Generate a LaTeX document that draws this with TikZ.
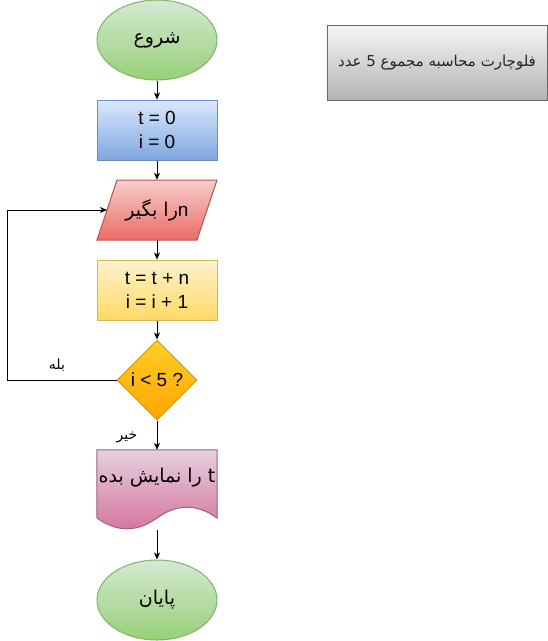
\documentclass[tikz,border=0pt]{standalone}
\usepackage{fontspec}
\setmainfont{Liberation Sans}
\newfontfamily\arabicfont[Script=Arabic]{DejaVu Sans}
\TeXXeTstate=1
\usetikzlibrary{positioning,arrows.meta,shapes.geometric,calc}
\definecolor{termtop}{HTML}{D5E8D4}\definecolor{termbot}{HTML}{97D077}\definecolor{termline}{HTML}{82B366}
\definecolor{inittop}{HTML}{DAE8FC}\definecolor{initbot}{HTML}{7EA6E0}\definecolor{initline}{HTML}{6C8EBF}
\definecolor{readtop}{HTML}{F8CECC}\definecolor{readbot}{HTML}{EA6B66}\definecolor{readline}{HTML}{B85450}
\definecolor{steptop}{HTML}{FFF2CC}\definecolor{stepbot}{HTML}{FFD966}\definecolor{stepline}{HTML}{D6B656}
\definecolor{condtop}{HTML}{FFCD28}\definecolor{condbot}{HTML}{FFA500}\definecolor{condline}{HTML}{D79B00}
\definecolor{showtop}{HTML}{E6D0DE}\definecolor{showbot}{HTML}{D5739D}\definecolor{showline}{HTML}{996185}
\definecolor{titletop}{HTML}{F5F5F5}\definecolor{titlebot}{HTML}{B3B3B3}\definecolor{titleline}{HTML}{666666}
\newcommand{\mainsize}{\fontsize{19}{24}\selectfont}
\tikzset{
  flowarrow/.style={-{Stealth[length=7pt,width=6pt,inset=2pt]}, line width=1pt},
  termnode/.style={ellipse, draw=termline, line width=1pt, top color=termtop, bottom color=termbot, minimum width=120pt, minimum height=80pt, inner sep=0pt, font=\mainsize\arabicfont},
  initnode/.style={rectangle, draw=initline, line width=1pt, top color=inittop, bottom color=initbot, minimum width=120pt, minimum height=60pt, inner sep=0pt, align=center, font=\mainsize},
  readbox/.style={rectangle, minimum width=120pt, minimum height=60pt, inner sep=0pt, font=\mainsize},
  stepnode/.style={rectangle, draw=stepline, line width=1pt, top color=steptop, bottom color=stepbot, minimum width=120pt, minimum height=60pt, inner sep=0pt, align=center, font=\mainsize},
  condnode/.style={diamond, draw=condline, line width=1pt, top color=condtop, bottom color=condbot, minimum width=80pt, minimum height=80pt, inner sep=0pt, font=\mainsize},
  docbox/.style={rectangle, minimum width=120pt, minimum height=80pt, inner sep=0pt},
  titlenode/.style={rectangle, draw=titleline, line width=1pt, top color=titletop, bottom color=titlebot, minimum width=220pt, minimum height=75pt, inner sep=0pt, font=\fontsize{15}{18}\selectfont\arabicfont, text=black!85},
  answer/.style={font=\fontsize{14}{16}\selectfont\arabicfont, inner sep=1pt}
}

\begin{document}
\begin{tikzpicture}[x=1pt, y=-1pt]
  \useasboundingbox (0,0) rectangle (548,641);
  \node[termnode] (start) at (157,40) {\beginR شروع\endR};
  \node[initnode] (init) at (157,130) {t = 0\\i = 0};
  % input parallelogram
  \shadedraw[draw=readline, line width=1pt, top color=readtop, bottom color=readbot]
    (117,180) -- (217,180) -- (197,240) -- (97,240) -- cycle;
  \node[readbox] (input) at (157,210) {\beginR n\arabicfont را بگیر\endR};
  \coordinate (inputleft) at (107,210);
  \node[stepnode] (update) at (157,290) {t = t + n\\i = i + 1};
  \node[condnode] (cond) at (157,380) {i < 5 ?};
  % document shape with wavy bottom
  \node[docbox] (show) at (157,490) {};
  \shadedraw[draw=showline, line width=1pt, top color=showtop, bottom color=showbot]
    (show.north west) -- (show.north east) -- (217,518)
    .. controls (197,503.6) and (177,503.6) .. (157,518)
    .. controls (137,532.4) and (117,532.4) .. (97,518) -- cycle;
  \node[font=\mainsize\arabicfont] (showtext) at (157,478) {\beginR t را نمایش بده\endR};
  \node[termnode] (stop) at (157,600) {\beginR پایان\endR};
  \node[titlenode] (title) at (437,62.5) {\beginR فلوچارت محاسبه مجموع 5 عدد\endR};

  \coordinate (loopcorner) at (7.5,380);
  \draw[flowarrow] (start) -- (init);
  \draw[flowarrow] (init) -- (input);
  \draw[flowarrow] (input) -- (update);
  \draw[flowarrow] (update) -- (cond);
  \draw[flowarrow] (cond) -- (show);
  \draw[flowarrow] (show) -- (stop);
  \draw[flowarrow] (cond.west) -- (loopcorner) |- (inputleft);
  \node[answer] (yes) at (57,365) {\beginR بله\endR};
  \node[answer] (no) at (127,437) {\beginR خیر\endR};
\end{tikzpicture}
\end{document}
